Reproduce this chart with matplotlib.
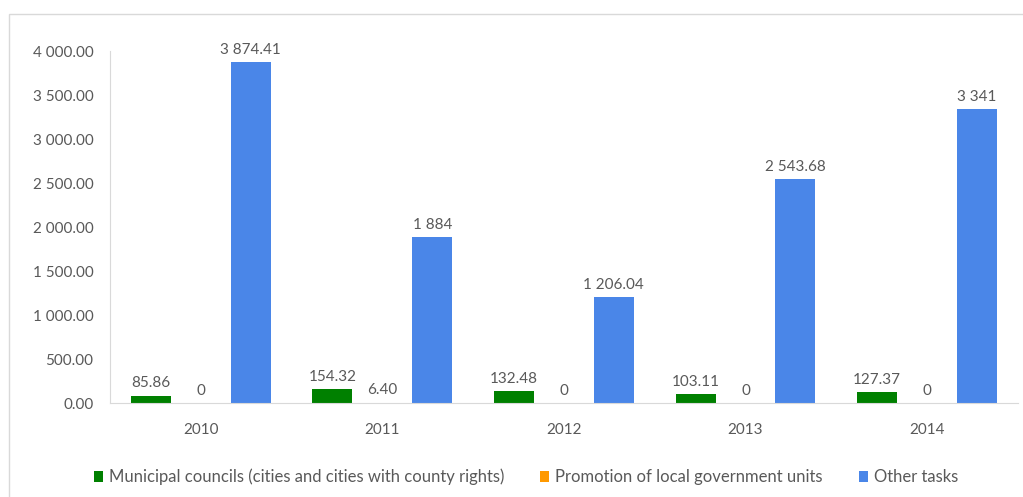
import matplotlib.pyplot as plt
import numpy as np
from matplotlib.patches import Rectangle

# 数据
years = ['2010', '2011', '2012', '2013', '2014']
municipal = [85.86, 154.32, 132.48, 103.11, 127.37]
promotion = [0, 6.40, 0, 0, 0]
other = [3874.41, 1884, 1206.04, 2543.68, 3341]
municipal_labels = ['85.86', '154.32', '132.48', '103.11', '127.37']
promotion_labels = ['0', '6.40', '0', '0', '0']
other_labels = ['3 874.41', '1 884', '1 206.04', '2 543.68', '3 341']
series_names = ['Municipal councils (cities and cities with county rights)',
                'Promotion of local government units', 'Other tasks']
yticks = [0, 500, 1000, 1500, 2000, 2500, 3000, 3500, 4000]

plt.rcParams['font.family'] = ['Lato', 'DejaVu Sans']
text_color = '#595959'
colors = ['#008000', '#FF9900', '#4A86E8']

fig = plt.figure(figsize=(10.23, 4.97), dpi=100)
ax = fig.add_axes([0.1075, 0.189, 0.8875, 0.708])

x = np.arange(len(years))
width = 0.22
offset = 0.275
series = [(municipal, municipal_labels), (promotion, promotion_labels), (other, other_labels)]
for i, (vals, labs) in enumerate(series):
    pos = x + (i - 1) * offset
    bars = ax.bar(pos, vals, width, color=colors[i], label=series_names[i])
    for b, lab in zip(bars, labs):
        ax.text(b.get_x() + b.get_width() / 2, b.get_height() + 60, lab,
                ha='center', va='bottom', fontsize=11, color=text_color, clip_on=False)

ax.set_xlim(-0.5, len(years) - 0.5)
ax.set_ylim(0, 4000)
ax.set_xticks(x)
ax.set_xticklabels(years)
ax.set_yticks(yticks)
ax.set_yticklabels([f'{v:,.2f}'.replace(',', ' ') for v in yticks])
ax.tick_params(axis='both', length=0, labelsize=11, labelcolor=text_color)
ax.tick_params(axis='y', pad=12)
ax.tick_params(axis='x', pad=14)

for s in ['top', 'right']:
    ax.spines[s].set_visible(False)
ax.spines['left'].set_color('#d9d9d9')
ax.spines['bottom'].set_color('#d9d9d9')

leg = fig.legend(loc='center', bbox_to_anchor=(0.514, 0.04), ncol=3, frameon=False,
                 fontsize=12, handlelength=0.55, handleheight=0.55, handletextpad=0.36,
                 columnspacing=2.15)
for t in leg.get_texts():
    t.set_color(text_color)

# 外框
fig.patches.append(Rectangle((9 / 1023, -0.01), 1.0, 1 - 14 / 497 + 0.01,
                             transform=fig.transFigure, fill=False,
                             edgecolor='#d9d9d9', linewidth=1))

fig.savefig('out.png', dpi=100)
